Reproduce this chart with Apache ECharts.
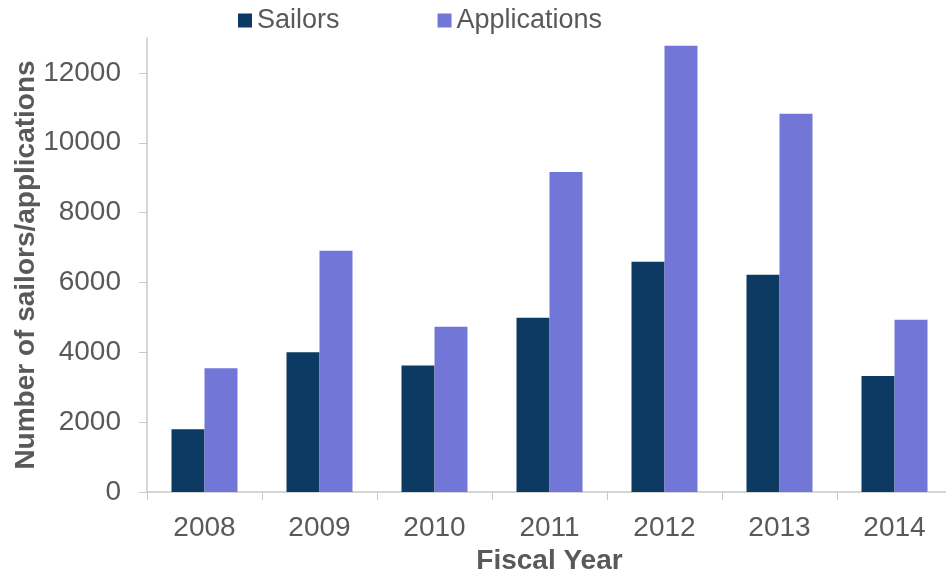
<!DOCTYPE html>
<html>
<head>
<meta charset="utf-8">
<script src="https://cdn.jsdelivr.net/npm/echarts@6/dist/echarts.min.js"></script>
<style>
html,body{margin:0;padding:0;background:#fff;}
#chart{width:946px;height:578px;}
</style>
</head>
<body>
<div id="chart"></div>
<script>
// Fiscal years and counts per year
const years = ['2008', '2009', '2010', '2011', '2012', '2013', '2014'];
const sailors = [1800, 4000, 3620, 4990, 6590, 6220, 3320];
const applications = [3540, 6910, 4730, 9160, 12780, 10830, 4930];

const chart = echarts.init(document.getElementById('chart'));
const textColor = '#595959';
const font = 'Liberation Sans, Arial, sans-serif';

chart.setOption({
  animation: false,
  textStyle: { fontFamily: font },
  legend: {
    top: 2,
    left: 233,
    itemGap: 98,
    itemWidth: 14,
    itemHeight: 14,
    icon: 'rect',
    textStyle: { fontSize: 27, color: textColor, fontFamily: font },
    data: ['Sailors', 'Applications']
  },
  grid: { left: 147, top: 38, width: 805, height: 454, outerBoundsMode: 'none', containLabel: false },
  xAxis: {
    type: 'category',
    data: years,
    axisLine: { lineStyle: { color: '#c8c8c8', width: 1.5 } },
    axisTick: { show: true, length: 8, lineStyle: { color: '#c8c8c8' } },
    axisLabel: { fontSize: 28, color: textColor, margin: 22, fontFamily: font },
    name: 'Fiscal Year',
    nameLocation: 'middle',
    nameGap: 48,
    nameTextStyle: { fontSize: 28, fontWeight: 'bold', color: textColor, fontFamily: font }
  },
  yAxis: {
    type: 'value',
    min: 0,
    max: 13000,
    interval: 2000,
    axisLine: { show: true, lineStyle: { color: '#c8c8c8', width: 1.5 } },
    axisTick: { show: true, length: 8, lineStyle: { color: '#c8c8c8' } },
    splitLine: { show: false },
    axisLabel: {
      fontSize: 28, color: textColor, margin: 26, showMaxLabel: false, fontFamily: font,
      formatter: (v) => String(v)
    },
    name: 'Number of sailors/applications',
    nameLocation: 'middle',
    nameMoveOverlap: false,
    nameGap: 107,
    nameTextStyle: { fontSize: 28, fontWeight: 'bold', color: textColor, fontFamily: font }
  },
  series: [
    {
      name: 'Sailors',
      type: 'bar',
      data: sailors,
      barGap: '0%',
      barCategoryGap: '42.6%',
      itemStyle: { color: '#0d3a63' }
    },
    {
      name: 'Applications',
      type: 'bar',
      data: applications,
      itemStyle: { color: '#7276d6' }
    }
  ]
});
</script>
</body>
</html>
